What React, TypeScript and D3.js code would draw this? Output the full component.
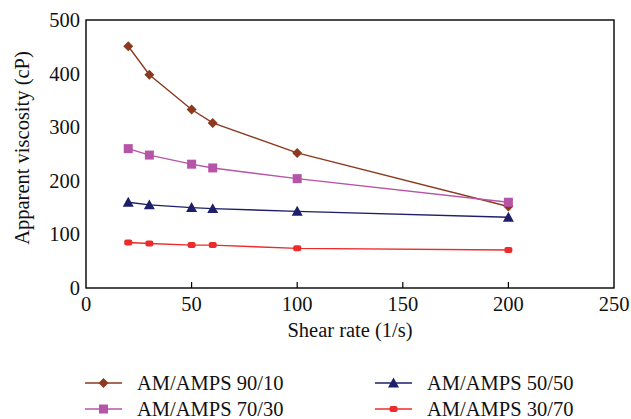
import React from "react";
import * as d3 from "d3";

const shearRates = [20, 30, 50, 60, 100, 200];
const s9010 = [451, 398, 333, 308, 252, 152];
const s7030 = [260, 248, 231, 224, 204, 160];
const s5050 = [160, 155, 150, 148, 143, 132];
const s3070 = [85, 83, 80, 80, 74, 71];
const xTicks = [0, 50, 100, 150, 200, 250];
const yTicks = [0, 100, 200, 300, 400, 500];
const seriesNames = ["AM/AMPS 90/10", "AM/AMPS 70/30", "AM/AMPS 50/50", "AM/AMPS 30/70"];

const W = 631, H = 419;
const L = 86, R = 614, T = 20, B = 288;
const FONT = "'Liberation Serif', 'DejaVu Serif', serif";
const FS = 20.5;

type Series = { name: string; values: number[]; color: string; marker: string };
const series: Series[] = [
  { name: seriesNames[0], values: s9010, color: "#8B3A1F", marker: "diamond" },
  { name: seriesNames[1], values: s7030, color: "#B654A8", marker: "square" },
  { name: seriesNames[2], values: s5050, color: "#1E1F6B", marker: "triangle" },
  { name: seriesNames[3], values: s3070, color: "#EE2B2B", marker: "circle" },
];

function Marker({ type, x, y, color }: { type: string; x: number; y: number; color: string }) {
  if (type === "diamond") {
    const s = 5;
    return <path d={`M${x},${y - s}L${x + s},${y}L${x},${y + s}L${x - s},${y}Z`} fill={color} />;
  }
  if (type === "square") {
    const s = 4.5;
    return <rect x={x - s} y={y - s} width={2 * s} height={2 * s} fill={color} />;
  }
  if (type === "triangle") {
    const s = 5.5;
    return <path d={`M${x},${y - s}L${x + s},${y + s * 0.8}L${x - s},${y + s * 0.8}Z`} fill={color} />;
  }
  return <rect x={x - 4} y={y - 3} width={8} height={6} rx={2} fill={color} />;
}

export default function App() {
  const x = d3.scaleLinear().domain([0, 250]).range([L, R]);
  const y = d3.scaleLinear().domain([0, 500]).range([B, T]);
  const line = d3
    .line<number>()
    .x((_, i) => x(shearRates[i]))
    .y((d) => y(d));

  const legendPos = [
    { lx: 85, ly: 383 },
    { lx: 85, ly: 409 },
    { lx: 375, ly: 383 },
    { lx: 375, ly: 409 },
  ];

  return (
    <svg width={W} height={H} style={{ position: "absolute", left: 0, top: 0, background: "#fff" }} fontFamily={FONT}>
      <rect x={0} y={0} width={W} height={H} fill="#fff" />
      {series.map((s) => (
        <g key={s.name}>
          <path d={line(s.values) || ""} fill="none" stroke={s.color} strokeWidth={1.4} />
          {s.values.map((v, i) => (
            <Marker key={i} type={s.marker} x={x(shearRates[i])} y={y(v)} color={s.color} />
          ))}
        </g>
      ))}
      <rect x={L} y={T} width={R - L} height={B - T} fill="none" stroke="#000" strokeWidth={1.4} />
      {xTicks.map((t) => (
        <g key={t}>
          {t > 0 && t < 250 && <line x1={x(t)} x2={x(t)} y1={B} y2={B - 6} stroke="#000" strokeWidth={1.2} />}
          <text x={x(t)} y={B + 23} textAnchor="middle" fontSize={FS} fill="#111">
            {t}
          </text>
        </g>
      ))}
      {yTicks.map((t) => (
        <text key={t} x={L - 6} y={y(t) + 7} textAnchor="end" fontSize={FS} fill="#111">
          {t}
        </text>
      ))}
      <text x={(L + R) / 2} y={337} textAnchor="middle" fontSize={FS} fill="#111">
        Shear rate (1/s)
      </text>
      <text
        transform={`translate(29,${(T + B) / 2 - 6}) rotate(-90)`}
        textAnchor="middle"
        fontSize={FS}
        fill="#111"
      >
        Apparent viscosity (cP)
      </text>
      {series.map((s, i) => {
        const { lx, ly } = legendPos[i];
        return (
          <g key={s.name}>
            <line x1={lx} x2={lx + 37} y1={ly} y2={ly} stroke={s.color} strokeWidth={1.4} />
            <Marker type={s.marker} x={lx + 18.5} y={ly} color={s.color} />
            <text x={lx + 52} y={ly + 7} fontSize={FS} fill="#111">
              {s.name}
            </text>
          </g>
        );
      })}
    </svg>
  );
}
